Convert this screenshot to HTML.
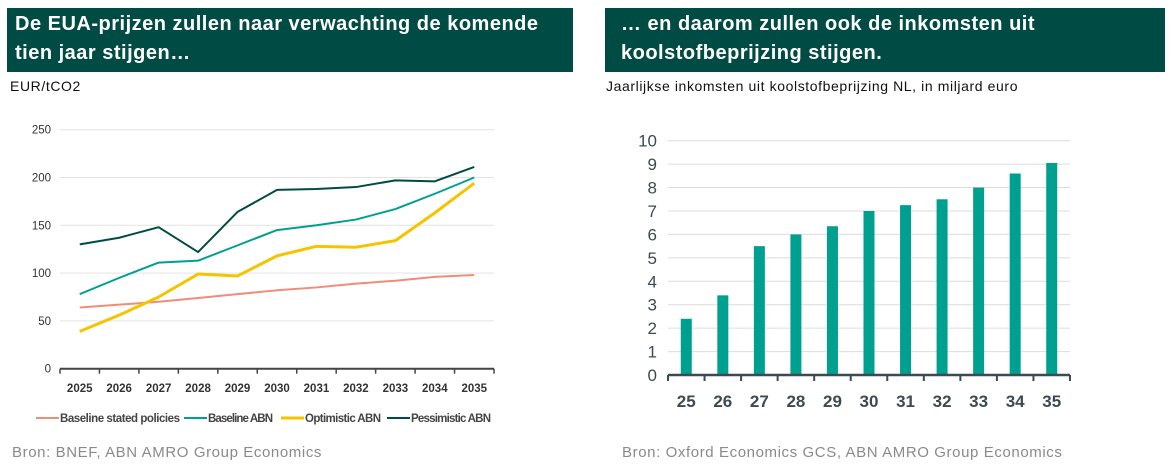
<!DOCTYPE html>
<html><head><meta charset="utf-8"><style>
body{margin:0;width:1172px;height:467px;background:#fff;font-family:"Liberation Sans",sans-serif;overflow:hidden;position:relative}
.hdr{position:absolute;top:8px;height:64px;background:#004c45;color:#fff;font-weight:bold;font-size:20px;letter-spacing:0.5px;line-height:29px;padding:2px 8px;box-sizing:border-box}
.sub{position:absolute;font-size:14px;color:#111;letter-spacing:0.6px}
.src{position:absolute;top:444px;font-size:15px;color:#8a8a8a;letter-spacing:0.6px}
svg{position:absolute;left:0;top:0}
</style></head><body>
<div class="hdr" style="left:7px;width:566px">De EUA-prijzen zullen naar verwachting de komende tien jaar stijgen…</div>
<div class="hdr" style="left:605px;width:560px;padding-left:16px">… en daarom zullen ook de inkomsten uit koolstofbeprijzing stijgen.</div>
<div class="sub" style="left:10px;top:78px">EUR/tCO2</div>
<div class="sub" style="left:606px;top:78px">Jaarlijkse inkomsten uit koolstofbeprijzing NL, in miljard euro</div>
<div class="src" style="left:12px">Bron: BNEF, ABN AMRO Group Economics</div>
<div class="src" style="left:622px">Bron: Oxford Economics GCS, ABN AMRO Group Economics</div>
<svg id="c" width="1172" height="467"></svg>
<script>
const years=["2025","2026","2027","2028","2029","2030","2031","2032","2033","2034","2035"];
const yTicksL=[0,50,100,150,200,250];
const stated=[64,67,70,74,78,82,85,89,92,96,98];
const baseline=[78,95,111,113,129,145,150,156,167,183,200];
const optimistic=[39,56,75,99,97,118,128,127,134,163,194];
const pessimistic=[130,137,148,122,164,187,188,190,197,196,211];
const barCats=["25","26","27","28","29","30","31","32","33","34","35"];
const revenue=[2.4,3.4,5.5,6.0,6.35,7.0,7.25,7.5,8.0,8.6,9.05];
const yTicksR=[0,1,2,3,4,5,6,7,8,9,10];
const NS="http://www.w3.org/2000/svg";
const svg=document.getElementById('c');
function mk(t,a,txt){const e=document.createElementNS(NS,t);for(const k in a)e.setAttribute(k,a[k]);if(txt!=null)e.textContent=txt;svg.appendChild(e);return e;}
const lx0=60,lx1=494,step=(lx1-lx0)/11;
const lxf=i=>lx0+step*(i+0.5);
const lyf=v=>368.7-v*0.956;
yTicksL.forEach(v=>{
 if(v>0){const g=mk('line',{x1:lx0,x2:lx1,y1:lyf(v),y2:lyf(v),stroke:'#e3e3e3','stroke-width':1});
 }
 const t=mk('text',{x:51,y:lyf(v)+4,'text-anchor':'end','font-size':11.5,fill:'#333'},v);
 
});
let ax=mk('line',{x1:lx0,x2:lx1,y1:lyf(0),y2:lyf(0),stroke:'#444','stroke-width':2});

for(let i=0;i<=11;i++){const tk=mk('line',{x1:lx0+step*i,x2:lx0+step*i,y1:lyf(0),y2:lyf(0)+5,stroke:'#444','stroke-width':1.5});
}
years.forEach((y,i)=>{const t=mk('text',{x:lxf(i),y:392,'text-anchor':'middle','font-size':11.5,'font-weight':'bold',fill:'#333'},y);
});
const series=[[stated,'#f08c78',2,'series-stated-policies'],[baseline,'#00a090',2,'series-baseline-abn'],[optimistic,'#f5c400',3,'series-optimistic-abn'],[pessimistic,'#004c45',2,'series-pessimistic-abn']];
series.forEach(s=>{const p=mk('polyline',{points:s[0].map((v,i)=>lxf(i)+','+lyf(v)).join(' '),fill:'none',stroke:s[1],'stroke-width':s[2],'stroke-linejoin':'round'});
});
const leg=[["Baseline stated policies",36,'#f08c78',2,120],["Baseline ABN",184,'#00a090',2,65],["Optimistic ABN",281,'#f5c400',3,76],["Pessimistic ABN",387,'#004c45',2,80]];
leg.forEach(l=>{const li=mk('line',{x1:l[1],x2:l[1]+23,y1:418,y2:418,stroke:l[2],'stroke-width':l[3]});

const t=mk('text',{x:l[1]+24,y:422,'font-size':11.5,'font-weight':'bold',fill:'#444',textLength:l[4],lengthAdjust:'spacing'},l[0]);
});
const rx0=668,rx1=1070,rstep=(rx1-rx0)/11;
const rxf=i=>rx0+rstep*(i+0.5);
const ryf=v=>375-v*23.43;
yTicksR.forEach(v=>{
 if(v>0){const g=mk('line',{x1:rx0,x2:rx1,y1:ryf(v),y2:ryf(v),stroke:'#dcdcdc','stroke-width':1});
 }
 const t=mk('text',{x:657,y:ryf(v)+6,'text-anchor':'end','font-size':17,fill:'#3d4a52'},v);
 
});
revenue.forEach((v,i)=>{const b=mk('rect',{x:rxf(i)-5.5,y:ryf(v),width:11,height:ryf(0)-ryf(v),fill:'#00a090'});
});
ax=mk('line',{x1:rx0,x2:rx1,y1:ryf(0),y2:ryf(0),stroke:'#3d4a52','stroke-width':2.5});

for(let i=0;i<=11;i++){const tk=mk('line',{x1:rx0+rstep*i,x2:rx0+rstep*i,y1:ryf(0),y2:ryf(0)+6,stroke:'#3d4a52','stroke-width':2});
}
barCats.forEach((c,i)=>{const t=mk('text',{x:rxf(i),y:407,'text-anchor':'middle','font-size':17,'font-weight':'bold',fill:'#3d4a52'},c);
});
</script>
</body></html>
